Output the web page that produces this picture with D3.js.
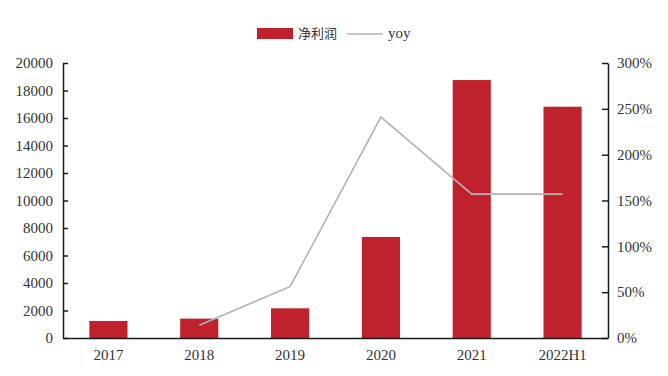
<!DOCTYPE html>
<html>
<head>
<meta charset="utf-8">
<script src="https://cdn.jsdelivr.net/npm/d3@7"></script>
<style>
  body { margin: 0; background: #fff; }
  text { font-family: "Liberation Serif", "DejaVu Serif", serif; fill: #333; }
</style>
</head>
<body>
<div id="chart"></div>
<script>
// data
var years = ["2017", "2018", "2019", "2020", "2021", "2022H1"];
var profit = [1240, 1410, 2160, 7350, 18760, 16820];
var yoy = [null, 14, 56, 241, 157, 157];
var leftTicks = [0, 2000, 4000, 6000, 8000, 10000, 12000, 14000, 16000, 18000, 20000];
var rightTicks = [0, 50, 100, 150, 200, 250, 300];

var width = 668, height = 376;
var plotLeft = 63, plotRight = 608, plotTop = 63, plotBottom = 338;
var barColor = "#c0222d", lineColor = "#b3b3b3", axisColor = "#1a1a1a";

var svg = d3.select("#chart").append("svg")
    .attr("width", width)
    .attr("height", height);

var x = d3.scaleBand()
    .domain(years)
    .range([plotLeft, plotRight])
    .paddingInner(0.58)
    .paddingOuter(0.29);

var y = d3.scaleLinear().domain([0, 20000]).range([plotBottom, plotTop]);
var y2 = d3.scaleLinear().domain([0, 300]).range([plotBottom, plotTop]);

// bars
svg.append("g").selectAll("rect")
    .data(profit)
    .enter()
    .append("rect")
    .attr("x", function(d, i) { return x(years[i]); })
    .attr("y", function(d) { return y(d); })
    .attr("width", x.bandwidth())
    .attr("height", function(d) { return plotBottom - y(d); })
    .style("fill", barColor);

// yoy line
var line = d3.line()
    .defined(function(d) { return d != null; })
    .x(function(d, i) { return x(years[i]) + x.bandwidth() / 2; })
    .y(function(d) { return y2(d); });

svg.append("path")
    .datum(yoy)
    .attr("d", line)
    .style("fill", "none")
    .style("stroke", lineColor)
    .style("stroke-width", 1.6);

// left axis
var yAxis = d3.axisRight(y).tickValues(leftTicks).tickSize(5).tickSizeOuter(0).tickFormat(d3.format("d"));
var yAxisGroup = svg.append("g")
    .attr("transform", "translate(" + plotLeft + ",0)")
    .call(yAxis);
yAxisGroup.selectAll("text")
    .attr("x", -10)
    .style("text-anchor", "end")
    .style("font-size", "15px");

// right axis
var y2Axis = d3.axisLeft(y2).tickValues(rightTicks).tickSize(6).tickSizeOuter(0).tickFormat(function(d) { return d + "%"; });
var y2AxisGroup = svg.append("g")
    .attr("transform", "translate(" + plotRight + ",0)")
    .call(y2Axis);
y2AxisGroup.selectAll("text")
    .attr("x", 9)
    .style("text-anchor", "start")
    .style("font-size", "15px");

// bottom axis
var xAxis = d3.axisBottom(x).tickSize(0).tickSizeOuter(0);
var xAxisGroup = svg.append("g")
    .attr("transform", "translate(0," + plotBottom + ")")
    .call(xAxis);
xAxisGroup.selectAll("text")
    .attr("y", 11)
    .style("font-size", "15px");

svg.selectAll(".domain, .tick line")
    .style("stroke", axisColor)
    .style("stroke-width", 1.5);
svg.selectAll(".tick text").style("fill", "#333");

// legend
var legend = svg.append("g");
legend.append("rect")
    .attr("x", 257).attr("y", 28)
    .attr("width", 36).attr("height", 11)
    .style("fill", barColor);
legend.append("text")
    .attr("x", 298).attr("y", 38)
    .style("font-family", "'Noto Sans CJK SC', sans-serif")
    .style("font-size", "13px")
    .text("净利润");
legend.append("line")
    .attr("x1", 347).attr("x2", 383)
    .attr("y1", 34).attr("y2", 34)
    .style("stroke", lineColor)
    .style("stroke-width", 1.6);
legend.append("text")
    .attr("x", 388).attr("y", 38)
    .style("font-size", "15px")
    .text("yoy");
</script>
</body>
</html>
